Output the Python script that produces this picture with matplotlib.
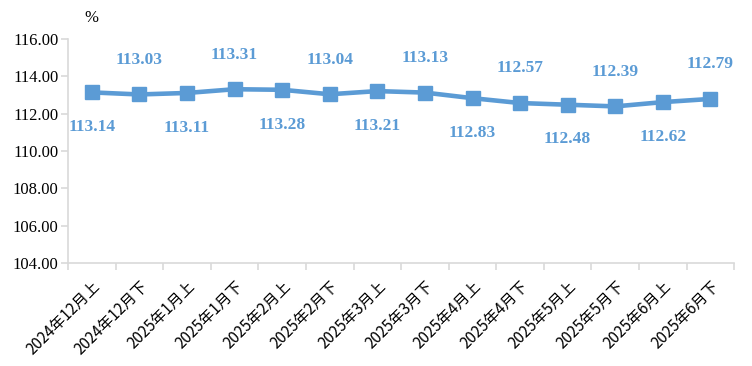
import numpy as np
import matplotlib.pyplot as plt

periods = ['2024年12月上', '2024年12月下', '2025年1月上', '2025年1月下',
           '2025年2月上', '2025年2月下', '2025年3月上', '2025年3月下',
           '2025年4月上', '2025年4月下', '2025年5月上', '2025年5月下',
           '2025年6月上', '2025年6月下']
values = [113.14, 113.03, 113.11, 113.31, 113.28, 113.04, 113.21,
          113.13, 112.83, 112.57, 112.48, 112.39, 112.62, 112.79]
y_ticks = [104, 106, 108, 110, 112, 114, 116]

blue = '#5B9BD5'
grey = '#D9D9D9'

fig = plt.figure(figsize=(7.52, 3.66), dpi=100)
ax = fig.add_axes([0.0904, 0.2814, 0.886, 0.612])

x = np.arange(len(values))
ax.plot(x, values, color=blue, linewidth=3.3, marker='s', markersize=10.5,
        markerfacecolor=blue, markeredgecolor=blue, zorder=3)

# labels alternate: below for even index, above for odd
for i, v in enumerate(values):
    off = -25 if i % 2 == 0 else 25
    ax.annotate(f'{v:.2f}', (i, v), xytext=(0, off), textcoords='offset points',
                ha='center', va='center', color=blue, fontsize=12.5,
                fontweight='bold', family='Liberation Serif')

ax.set_xlim(-0.5, len(values) - 0.5)
ax.set_ylim(104, 116)
ax.set_yticks(y_ticks)
ax.set_yticklabels([f'{t:.2f}' for t in y_ticks], family='Liberation Serif',
                   fontsize=12)

# tick marks between categories, labels at centers
ax.set_xticks(np.arange(len(values) + 1) - 0.5)
ax.set_xticklabels([])
ax.set_xticks(x, minor=True)
ax.set_xticklabels(periods, minor=True, rotation=45, ha='right',
                   rotation_mode='anchor', fontsize=11,
                   family=['Noto Sans CJK SC', 'DejaVu Sans'])
ax.tick_params(axis='x', which='major', length=5, color=grey, width=1.2)
ax.tick_params(axis='x', which='minor', length=0, pad=11)
ax.tick_params(axis='y', length=5, color=grey, width=1.2, pad=2)

for s in ['top', 'right']:
    ax.spines[s].set_visible(False)
for s in ['left', 'bottom']:
    ax.spines[s].set_color(grey)
    ax.spines[s].set_linewidth(1.2)

fig.text(0.122, 0.95, '%', family='Liberation Serif', fontsize=12,
         ha='center', va='center')

fig.savefig('out.png', dpi=100)
